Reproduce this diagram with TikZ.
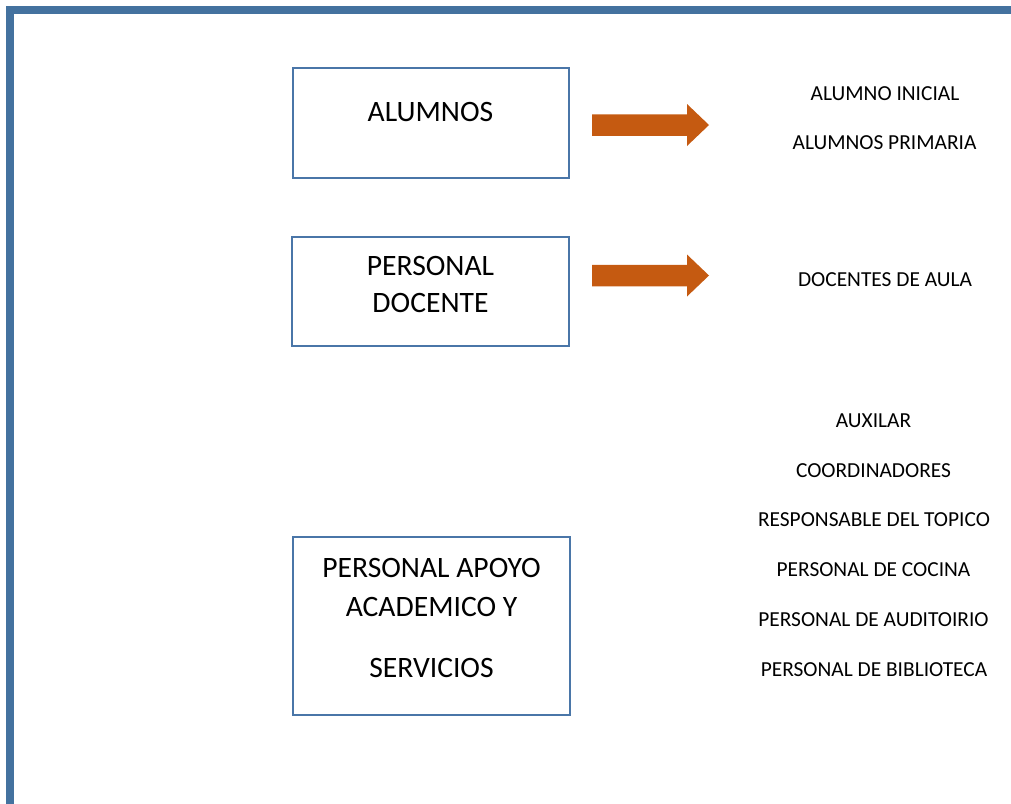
\documentclass[tikz,border=0pt]{standalone}
\usepackage{fontspec}
\setmainfont{Carlito}
\definecolor{frameblue}{HTML}{44729F}
\definecolor{boxblue}{HTML}{4A76A8}
\definecolor{arroworange}{HTML}{C55A11}
\tikzset{
  catbox/.style={draw=boxblue, line width=2pt, rectangle, inner sep=0pt},
  boxtext/.style={font=\fontsize{29.6}{35}\selectfont, anchor=base, inner sep=0pt},
  itemtext/.style={font=\fontsize{21.4}{25}\selectfont, anchor=base, inner sep=0pt},
  blockarrow/.style={fill=arroworange, draw=none}
}
\begin{document}
\begin{tikzpicture}[x=1pt, y=-1pt]
\useasboundingbox (0,0) rectangle (1011,803);
% frame
\draw[frameblue, line width=8pt, line join=miter] (1015,10) -- (10,10) -- (10,807);
% boxes
\node[catbox, minimum width=276pt, minimum height=110.6pt] (b1) at (430.7,123) {};
\node[catbox, minimum width=277pt, minimum height=109.5pt] (b2) at (430.3,291.3) {};
\node[catbox, minimum width=277pt, minimum height=178pt] (b3) at (431.2,626.3) {};
% box texts
\node[boxtext] (t1) at (430.5,121.4) {ALUMNOS};
\node[boxtext] (t2a) at (430.5,275.4) {PERSONAL};
\node[boxtext] (t2b) at (430.5,312.4) {DOCENTE};
\node[boxtext] (t3a) at (431.5,577.4) {PERSONAL APOYO};
\node[boxtext] (t3b) at (431.5,616.9) {ACADEMICO Y};
\node[boxtext] (t3c) at (431.5,677.9) {SERVICIOS};
% block arrows
\coordinate (a1) at (709,125);
\coordinate (a2) at (709,275.5);
\fill[blockarrow] (a1) -- ++(-22,-21) -- ++(0,10.25) -- ++(-95,0) -- ++(0,21.5) -- ++(95,0) -- ++(0,10.25) -- cycle;
\fill[blockarrow] (a2) -- ++(-22,-21) -- ++(0,10.25) -- ++(-95,0) -- ++(0,21.5) -- ++(95,0) -- ++(0,10.25) -- cycle;
% item texts
\node[itemtext] (i1) at (885,100.8) {ALUMNO INICIAL};
\node[itemtext] (i2) at (884.5,149.8) {ALUMNOS PRIMARIA};
\node[itemtext] (i3) at (885,286.8) {DOCENTES DE AULA};
\node[itemtext] (i4) at (873.5,427.8) {AUXILAR};
\node[itemtext] (i5) at (873.5,477.3) {COORDINADORES};
\node[itemtext] (i6) at (874,526.3) {RESPONSABLE DEL TOPICO};
\node[itemtext] (i7) at (873.5,576.3) {PERSONAL DE COCINA};
\node[itemtext] (i8) at (873.5,626.3) {PERSONAL DE AUDITOIRIO};
\node[itemtext] (i9) at (874,676.3) {PERSONAL DE BIBLIOTECA};
\end{tikzpicture}
\end{document}
